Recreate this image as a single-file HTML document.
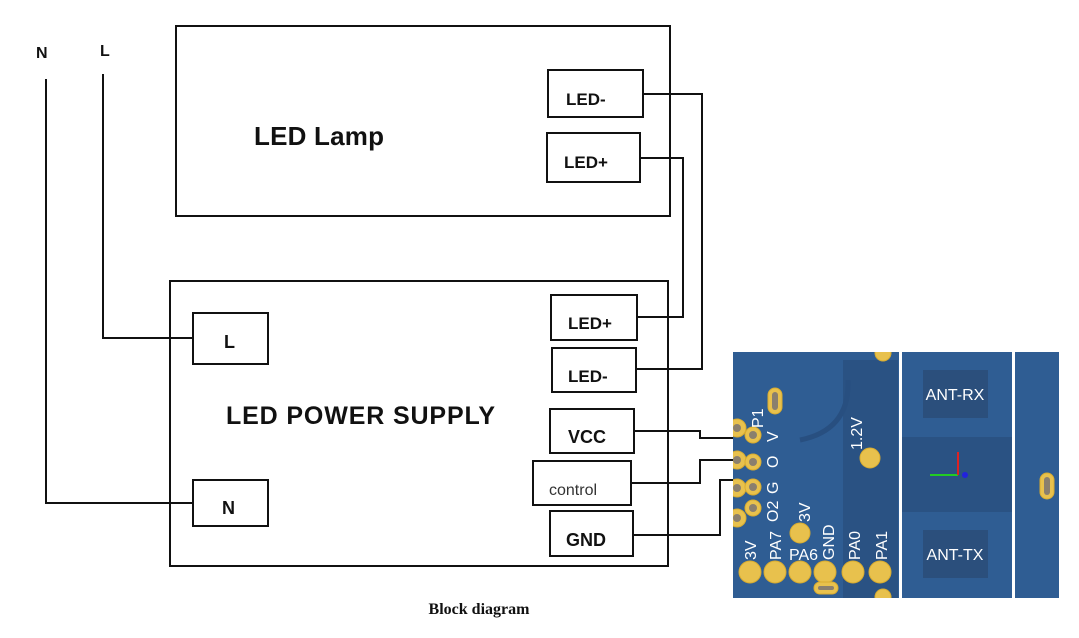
<!DOCTYPE html>
<html><head><meta charset="utf-8"><style>
html,body{margin:0;padding:0;background:#fff;}
svg{display:block;}
.t{font-family:"Liberation Sans",sans-serif;font-weight:bold;fill:#111;}
.w{font-family:"Liberation Sans",sans-serif;fill:#fff;}
</style></head><body>
<svg width="1079" height="638" viewBox="0 0 1079 638" xmlns="http://www.w3.org/2000/svg">
<defs><clipPath id="pcb"><rect x="733" y="352" width="326" height="246"/></clipPath></defs>
<g fill="none" stroke="#111" stroke-width="2">
<rect x="176" y="26" width="494" height="190"/>
<rect x="548" y="70" width="95" height="47"/>
<rect x="547" y="133" width="93" height="49"/>
<rect x="170" y="281" width="498" height="285"/>
<rect x="551" y="295" width="86" height="45"/>
<rect x="552" y="348" width="84" height="44"/>
<rect x="550" y="409" width="84" height="44"/>
<rect x="533" y="461" width="98" height="44"/>
<rect x="550" y="511" width="83" height="45"/>
<rect x="193" y="313" width="75" height="51"/>
<rect x="193" y="480" width="75" height="46"/>
<polyline points="46,79 46,503 193,503"/>
<polyline points="103,74 103,338 193,338"/>
<polyline points="637,317 683,317 683,158 640,158"/>
<polyline points="636,369 702,369 702,94 643,94"/>
<polyline points="634,431 700,431 700,438 735,438"/>
<polyline points="631,483 700,483 700,460 735,460"/>
<polyline points="633,535 720,535 720,480 735,480"/>
</g>
<text class="t" x="36" y="58" font-size="16">N</text>
<text class="t" x="100" y="56" font-size="16">L</text>
<text class="t" x="254" y="145" font-size="26" textLength="130">LED Lamp</text>
<text class="t" x="566" y="105" font-size="17">LED-</text>
<text class="t" x="564" y="168" font-size="17">LED+</text>
<text class="t" x="568" y="329" font-size="17">LED+</text>
<text class="t" x="568" y="382" font-size="17">LED-</text>
<text class="t" x="568" y="443" font-size="18">VCC</text>
<text x="549" y="495" font-size="16" font-family="Liberation Sans,sans-serif" fill="#333">control</text>
<text class="t" x="566" y="546" font-size="18">GND</text>
<text class="t" x="224" y="348" font-size="18">L</text>
<text class="t" x="222" y="514" font-size="18">N</text>
<text class="t" x="226" y="424" font-size="25" textLength="269">LED POWER SUPPLY</text>
<text x="479" y="614" font-size="16" font-weight="bold" font-family="Liberation Serif,serif" text-anchor="middle" fill="#111">Block diagram</text>
<g clip-path="url(#pcb)">
<rect x="733" y="352" width="326" height="246" fill="#2f5d93"/>
<rect x="843" y="360" width="55" height="238" fill="#2a5283"/>
<rect x="902" y="437" width="111" height="75" fill="#2a5283"/>
<rect x="923" y="370" width="65" height="48" fill="#2b4f7c"/>
<rect x="923" y="530" width="65" height="48" fill="#2b4f7c"/>
<rect x="899" y="352" width="3" height="246" fill="#fff"/>
<rect x="1012" y="352" width="3" height="246" fill="#fff"/>
<path d="M848,380 Q850,430 800,440" stroke="#284f80" stroke-width="5" fill="none"/>
<g fill="#e8c14d" stroke="#d9ac2f" stroke-width="1">
<circle cx="737" cy="428" r="9"/><circle cx="737" cy="460" r="9"/><circle cx="737" cy="488" r="9"/><circle cx="737" cy="518" r="9"/>
<circle cx="753" cy="435" r="8"/><circle cx="753" cy="462" r="8"/><circle cx="753" cy="487" r="8"/><circle cx="753" cy="508" r="8"/>
<circle cx="750" cy="572" r="11"/><circle cx="775" cy="572" r="11"/><circle cx="800" cy="572" r="11"/><circle cx="825" cy="572" r="11"/><circle cx="853" cy="572" r="11"/><circle cx="880" cy="572" r="11"/>
<circle cx="800" cy="533" r="10"/><circle cx="870" cy="458" r="10"/>
<circle cx="883" cy="353" r="8"/><circle cx="883" cy="597" r="8"/>
<rect x="768" y="388" width="14" height="26" rx="7"/>
<rect x="1040" y="473" width="14" height="26" rx="7"/>
<rect x="814" y="582" width="24" height="12" rx="6"/>
</g>
<g fill="#8a7f6e">
<circle cx="737" cy="428" r="4"/><circle cx="737" cy="460" r="4"/><circle cx="737" cy="488" r="4"/><circle cx="737" cy="518" r="4"/>
<circle cx="753" cy="435" r="4"/><circle cx="753" cy="462" r="4"/><circle cx="753" cy="487" r="4"/><circle cx="753" cy="508" r="4"/>
<rect x="772" y="392" width="6" height="18" rx="3"/><rect x="1044" y="477" width="6" height="18" rx="3"/>
<rect x="818" y="586" width="16" height="4" rx="2"/>
</g>
<g class="w" font-size="16">
<text transform="translate(763,428) rotate(-90)">P1</text>
<text transform="translate(778,442) rotate(-90)">V</text>
<text transform="translate(778,468) rotate(-90)">O</text>
<text transform="translate(778,494) rotate(-90)">G</text>
<text transform="translate(778,522) rotate(-90)">O2</text>
<text transform="translate(756,560) rotate(-90)">3V</text>
<text transform="translate(781,560) rotate(-90)">PA7</text>
<text x="789" y="560">PA6</text>
<text transform="translate(834,560) rotate(-90)">GND</text>
<text transform="translate(860,560) rotate(-90)">PA0</text>
<text transform="translate(887,560) rotate(-90)">PA1</text>
<text transform="translate(810,522) rotate(-90)">3V</text>
<text transform="translate(862,450) rotate(-90)">1.2V</text>
<text x="955" y="400" text-anchor="middle">ANT-RX</text>
<text x="955" y="560" text-anchor="middle">ANT-TX</text>
</g>
<line x1="958" y1="475" x2="930" y2="475" stroke="#2c2" stroke-width="2"/>
<line x1="958" y1="475" x2="958" y2="452" stroke="#d22" stroke-width="2"/>
<circle cx="965" cy="475" r="3" fill="#22d"/>
</g>
</svg>
</body></html>
